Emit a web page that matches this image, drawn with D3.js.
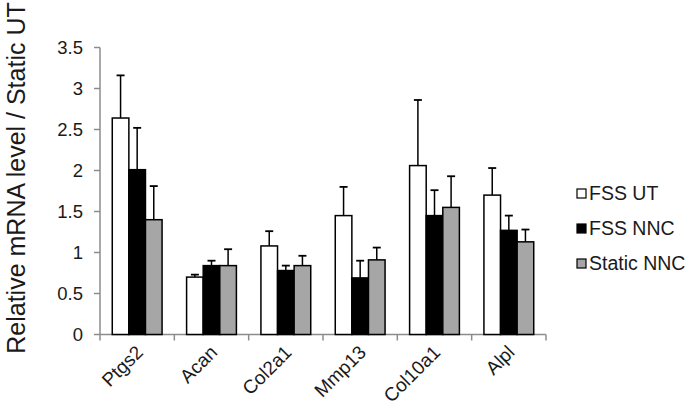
<!DOCTYPE html>
<html>
<head>
<meta charset="utf-8">
<script src="https://d3js.org/d3.v7.min.js"></script>
<style>
  body { margin: 0; background: #fff; }
  svg text { font-family: "Liberation Sans", Arial, sans-serif; fill: #1a1a1a; }
</style>
</head>
<body>
<script>
const GENES = ["Ptgs2", "Acan", "Col2a1", "Mmp13", "Col10a1", "Alpl"];
const SERIES = ["FSS UT", "FSS NNC", "Static NNC"];
const FSS_UT = [2.64, 0.70, 1.08, 1.45, 2.06, 1.70];
const FSS_UT_ERR = [0.52, 0.03, 0.18, 0.35, 0.80, 0.33];
const FSS_NNC = [2.01, 0.84, 0.78, 0.69, 1.45, 1.27];
const FSS_NNC_ERR = [0.51, 0.06, 0.06, 0.21, 0.31, 0.18];
const STATIC_NNC = [1.40, 0.84, 0.84, 0.91, 1.55, 1.13];
const STATIC_NNC_ERR = [0.41, 0.20, 0.12, 0.15, 0.38, 0.15];
const Y_TICKS = [0, 0.5, 1, 1.5, 2, 2.5, 3, 3.5];
const COLORS = ["#ffffff", "#000000", "#a6a6a6"];

const W = 692, H = 412;
const VALUES = [FSS_UT, FSS_NNC, STATIC_NNC];
const ERRORS = [FSS_UT_ERR, FSS_NNC_ERR, STATIC_NNC_ERR];

const svg = d3.select("body").append("svg")
  .attr("width", W).attr("height", H);

const x = d3.scaleBand().domain(GENES).range([100, 546]).paddingInner(0.33).paddingOuter(0.165);
const xs = d3.scaleBand().domain(SERIES).range([0, x.bandwidth()]);
const y = d3.scaleLinear().domain([0, 3.5]).range([334.5, 47.5]);

// y axis
const yAxis = svg.append("g").attr("transform", "translate(100,0)");
yAxis.append("line").attr("x1", 0).attr("x2", 0).attr("y1", y(0)).attr("y2", y(3.5))
  .attr("stroke", "#8c8c8c").attr("stroke-width", 1.5);
yAxis.selectAll(".yt").data(Y_TICKS).enter().append("line")
  .attr("x1", -6).attr("x2", 0).attr("y1", d => y(d)).attr("y2", d => y(d))
  .attr("stroke", "#8c8c8c").attr("stroke-width", 1.5);
yAxis.selectAll(".yl").data(Y_TICKS).enter().append("text")
  .attr("x", -17).attr("y", d => y(d)).attr("dy", "0.35em")
  .attr("text-anchor", "end").attr("font-size", 18.5)
  .text(d => d);

// x axis
const bounds = GENES.map((g, i) => 100 + i * (446 / GENES.length)).concat([546]);
svg.append("line").attr("x1", 100).attr("x2", 546).attr("y1", y(0)).attr("y2", y(0))
  .attr("stroke", "#8c8c8c").attr("stroke-width", 1.5);
svg.selectAll(".xt").data(bounds).enter().append("line")
  .attr("x1", d => d).attr("x2", d => d).attr("y1", y(0)).attr("y2", y(0) + 6)
  .attr("stroke", "#8c8c8c").attr("stroke-width", 1.5);

// bars
SERIES.forEach((s, si) => {
  const g = svg.append("g");
  GENES.forEach((gene, gi) => {
    const bx = x(gene) + xs(s);
    const v = VALUES[si][gi];
    const top = v + ERRORS[si][gi];
    const cx = bx + xs.bandwidth() / 2;
    g.append("line").attr("x1", cx).attr("x2", cx).attr("y1", y(v)).attr("y2", y(top))
      .attr("stroke", "#000").attr("stroke-width", 1.5);
    g.append("line").attr("x1", cx - 4).attr("x2", cx + 4).attr("y1", y(top)).attr("y2", y(top))
      .attr("stroke", "#000").attr("stroke-width", 1.8);
    g.append("rect").attr("x", bx).attr("y", y(v))
      .attr("width", xs.bandwidth()).attr("height", y(0) - y(v))
      .attr("fill", COLORS[si]).attr("stroke", "#000").attr("stroke-width", 1.5);
  });
});

// x labels
svg.selectAll(".xl").data(GENES).enter().append("text")
  .attr("text-anchor", "end").attr("font-size", 19)
  .attr("transform", d => `translate(${x(d) + x.bandwidth() / 2 + 7},${y(0) + 19}) rotate(-45)`)
  .text(d => d);

// y title
svg.append("text")
  .attr("transform", "translate(25,178) rotate(-90)")
  .attr("text-anchor", "middle").attr("font-size", 25)
  .text("Relative mRNA level / Static UT");

// legend
const lg = svg.append("g").attr("transform", "translate(577,193)");
SERIES.forEach((s, i) => {
  lg.append("rect").attr("x", 0).attr("y", i * 35 - 4).attr("width", 9).attr("height", 9)
    .attr("fill", COLORS[i]).attr("stroke", "#000").attr("stroke-width", 1.2);
  lg.append("text").attr("x", 12).attr("y", i * 35).attr("dy", "0.35em")
    .attr("font-size", 19.5).text(s);
});
</script>
</body>
</html>
